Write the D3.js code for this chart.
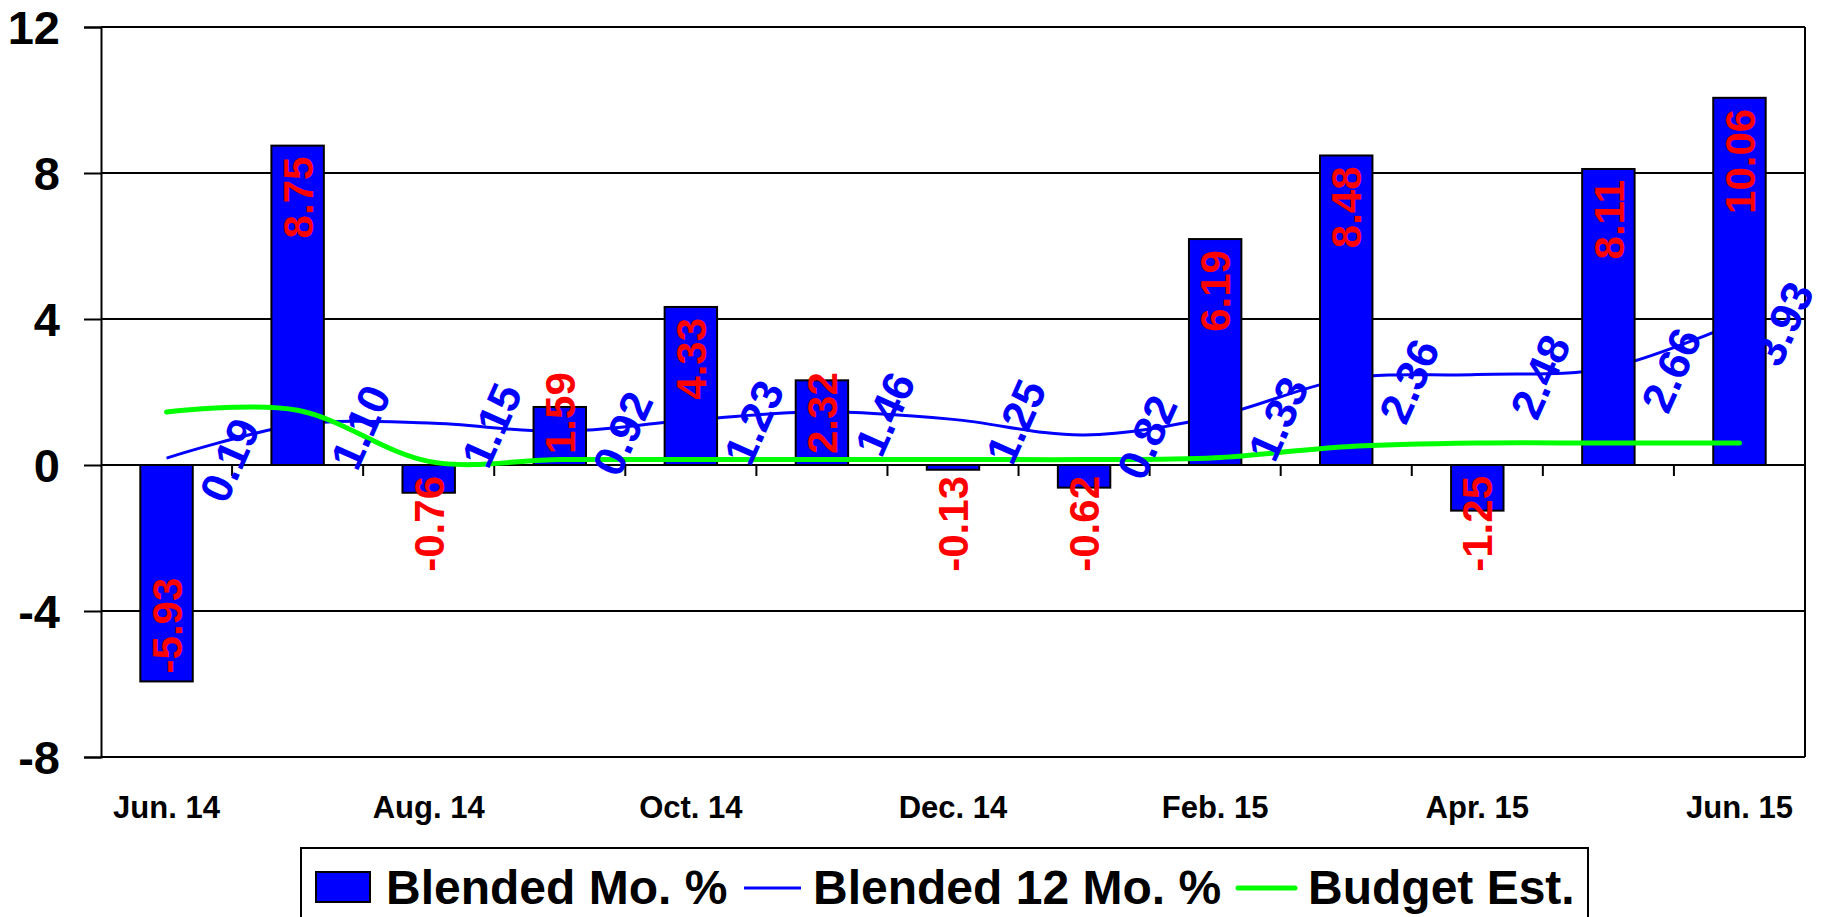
<!DOCTYPE html>
<html>
<head>
<meta charset="utf-8">
<script src="https://cdn.jsdelivr.net/npm/d3@7"></script>
<style>
  html, body { margin: 0; padding: 0; background: #fff; }
  svg text { font-family: "Liberation Sans", Arial, sans-serif; font-weight: bold; }
</style>
</head>
<body>
<div id="chart"></div>
<script>
// months along the category axis (only every other one gets a label)
var months = ['Jun. 14', 'Jul. 14', 'Aug. 14', 'Sep. 14', 'Oct. 14', 'Nov. 14', 'Dec. 14',
              'Jan. 15', 'Feb. 15', 'Mar. 15', 'Apr. 15', 'May. 15', 'Jun. 15'];
var blendedMo = [-5.93, 8.75, -0.76, 1.59, 4.33, 2.32, -0.13, -0.62, 6.19, 8.48, -1.25, 8.11, 10.06];
var blended12Mo = [0.19, 1.10, 1.15, 0.92, 1.23, 1.46, 1.25, 0.82, 1.33, 2.36, 2.48, 2.66, 3.93];
var budgetEst = [1.45, 1.5, 0.1, 0.15, 0.15, 0.15, 0.15, 0.15, 0.2, 0.5, 0.6, 0.6, 0.6];
var yTicks = [-8, -4, 0, 4, 8, 12];
var legendItems = ['Blended Mo. %', 'Blended 12 Mo. %', 'Budget Est.'];

(function(){
    var W = 1825, H = 917,
        pLeft = 101, pRight = 1805, pTop = 27, pBottom = 757;

    var svg = d3.select('#chart').append('svg')
        .attr('width', W)
        .attr('height', H);

    var x = d3.scaleBand()
        .domain(months)
        .range([pLeft, pRight])
        .paddingInner(0.6)
        .paddingOuter(0.3);
    var step = x.step();
    var cx = function(m){ return x(m) + x.bandwidth() / 2; };

    var y = d3.scaleLinear().domain([-8, 12]).range([pBottom, pTop]);
    var y0 = y(0);

    // gridlines
    svg.append('g').selectAll('line')
        .data(yTicks)
        .enter().append('line')
        .attr('x1', pLeft).attr('x2', pRight)
        .attr('y1', function(d){ return y(d); })
        .attr('y2', function(d){ return y(d); })
        .attr('stroke', '#000').attr('stroke-width', 2);

    // y axis (plain hyphen for negatives, like the original)
    var yAxis = svg.append('g')
        .attr('transform', 'translate(' + pLeft + ',0)')
        .call(d3.axisLeft(y).tickValues(yTicks).tickFormat(String).tickSize(17).tickPadding(24));
    yAxis.select('.domain').attr('stroke-width', 2);
    yAxis.selectAll('.tick line').attr('stroke-width', 2);
    yAxis.selectAll('.tick text')
        .attr('font-size', 47)
        .attr('fill', '#000')
        .attr('dy', '0.36em')
        .style('font-family', '"Liberation Sans", Arial, sans-serif');

    // right border
    svg.append('line')
        .attr('x1', pRight).attr('x2', pRight).attr('y1', pTop).attr('y2', pBottom)
        .attr('stroke', '#000').attr('stroke-width', 2);

    // category ticks on the zero line
    svg.append('g').selectAll('line')
        .data(d3.range(1, months.length + 1))
        .enter().append('line')
        .attr('x1', function(i){ return pLeft + i * step; })
        .attr('x2', function(i){ return pLeft + i * step; })
        .attr('y1', y0).attr('y2', y0 + 11)
        .attr('stroke', '#000').attr('stroke-width', 2);

    // category labels
    svg.append('g').selectAll('text')
        .data(months.filter(function(d, i){ return i % 2 === 0; }))
        .enter().append('text')
        .attr('x', cx)
        .attr('y', 818)
        .attr('text-anchor', 'middle')
        .attr('font-size', 31)
        .attr('fill', '#000')
        .text(function(d){ return d; });

    var smooth = d3.line()
        .x(function(d, i){ return cx(months[i]); })
        .y(function(d){ return y(d); })
        .curve(d3.curveCardinal.tension(0));

    // 12 month line sits behind the bars
    svg.append('path')
        .datum(blended12Mo)
        .attr('d', smooth)
        .attr('fill', 'none')
        .attr('stroke', '#0000ff')
        .attr('stroke-width', 3);

    // bars
    svg.append('g').selectAll('rect')
        .data(blendedMo)
        .enter().append('rect')
        .attr('x', function(d, i){ return x(months[i]); })
        .attr('width', x.bandwidth())
        .attr('y', function(d){ return Math.min(y(d), y0); })
        .attr('height', function(d){ return Math.abs(y(d) - y0); })
        .attr('fill', '#0000ff')
        .attr('stroke', '#000')
        .attr('stroke-width', 2);

    // budget line goes over the bars
    svg.append('path')
        .datum(budgetEst)
        .attr('d', smooth)
        .attr('fill', 'none')
        .attr('stroke', '#00ff00')
        .attr('stroke-width', 5)
        .attr('stroke-linecap', 'round');

    // bar labels, vertical; short bars push the label off the zero line
    svg.append('g').selectAll('text')
        .data(blendedMo)
        .enter().append('text')
        .attr('text-anchor', 'start')
        .attr('dy', '0.36em')
        .attr('font-size', 42)
        .attr('fill', '#ff0000')
        .text(function(d){ return d.toFixed(2); })
        .attr('transform', function(d, i){
            var len = this.getComputedTextLength(), ly;
            if (d >= 0) {
                ly = Math.min(y(d) + 11 + len, y0 - 11);
            } else {
                ly = Math.max(y(d) - 8, y0 + 11 + len);
            }
            return 'translate(' + cx(months[i]) + ',' + ly + ') rotate(-90)';
        });

    // 12 month labels, slanted, sitting on the category boundaries
    svg.append('g').selectAll('text')
        .data(blended12Mo)
        .enter().append('text')
        .attr('transform', function(d, i){
            var lx = Math.min(cx(months[i]) + step / 2 - 3, W - 42);
            return 'translate(' + lx + ',' + (y(d) + 2) + ') rotate(-66)';
        })
        .attr('text-anchor', 'middle')
        .attr('dy', '0.36em')
        .attr('font-size', 44)
        .attr('fill', '#0000ff')
        .text(function(d){ return d.toFixed(2); });

    // legend
    var lg = svg.append('g');
    lg.append('rect')
        .attr('x', 301).attr('y', 848)
        .attr('width', 1287).attr('height', 100)
        .attr('fill', 'none').attr('stroke', '#000').attr('stroke-width', 2);
    lg.append('rect')
        .attr('x', 316).attr('y', 872).attr('width', 54).attr('height', 30)
        .attr('fill', '#0000ff').attr('stroke', '#000').attr('stroke-width', 2);
    lg.append('text').attr('x', 386).attr('y', 904).attr('font-size', 48).text(legendItems[0]);
    lg.append('line')
        .attr('x1', 744).attr('x2', 801).attr('y1', 888).attr('y2', 888)
        .attr('stroke', '#0000ff').attr('stroke-width', 3);
    lg.append('text').attr('x', 813).attr('y', 904).attr('font-size', 48).text(legendItems[1]);
    lg.append('line')
        .attr('x1', 1238).attr('x2', 1295).attr('y1', 888).attr('y2', 888)
        .attr('stroke', '#00ff00').attr('stroke-width', 5).attr('stroke-linecap', 'round');
    lg.append('text').attr('x', 1308).attr('y', 904).attr('font-size', 48).text(legendItems[2]);
})();
</script>
</body>
</html>
